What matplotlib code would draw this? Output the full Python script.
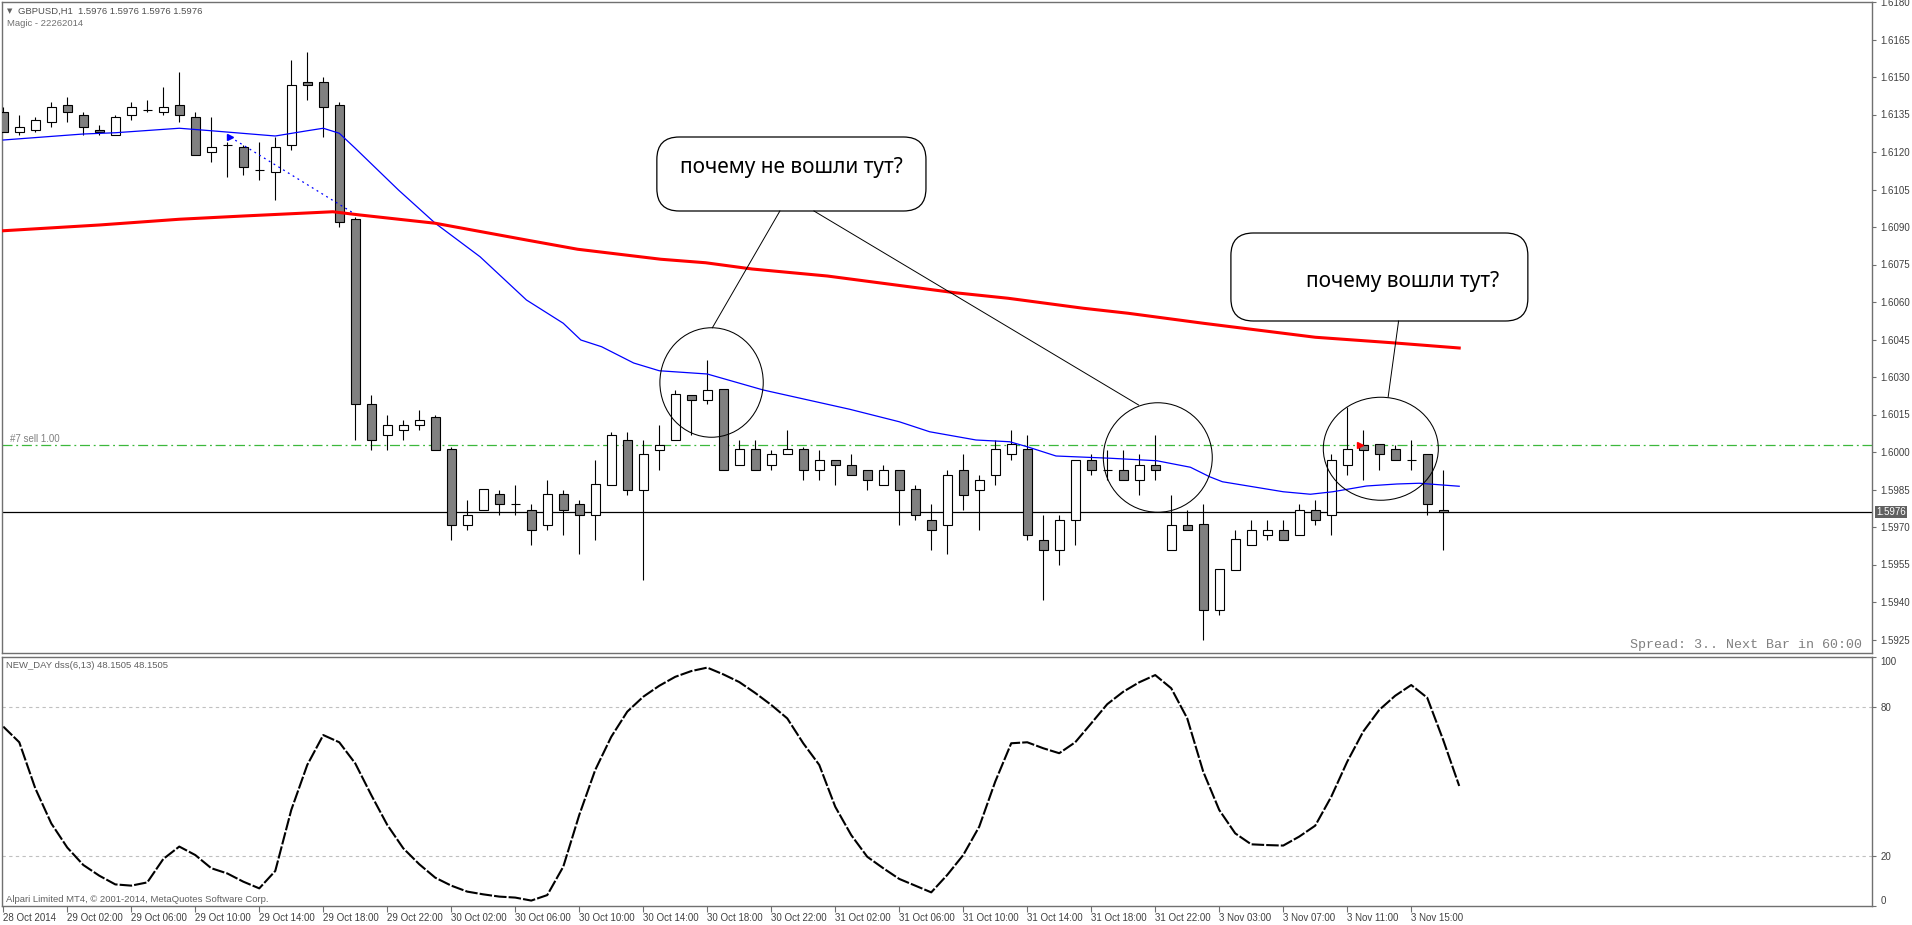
import numpy as np
import matplotlib.pyplot as plt
from matplotlib.patches import Ellipse, FancyBboxPatch

W, H = 1912, 925

# GBPUSD H1 candles, bar 0 = 28 Oct 22:00
opens = [1.6136, 1.6128, 1.6129, 1.6132, 1.6139, 1.6135, 1.6129, 1.6127, 1.6135, 1.6137,
         1.6136, 1.6139, 1.6134, 1.6120, 1.6123, 1.6122, 1.6113, 1.6112, 1.6123, 1.6148,
         1.6148, 1.6139, 1.6093, 1.6019, 1.6007, 1.6009, 1.6011, 1.6014, 1.6001, 1.5971,
         1.5977, 1.5983, 1.5979, 1.5977, 1.5971, 1.5983, 1.5979, 1.5975, 1.5987, 1.6005,
         1.5985, 1.6001, 1.6005, 1.6023, 1.6021, 1.6025, 1.5995, 1.6001, 1.5995, 1.5999,
         1.6001, 1.5993, 1.5997, 1.5995, 1.5993, 1.5987, 1.5993, 1.5985, 1.5973, 1.5971,
         1.5993, 1.5985, 1.5991, 1.5999, 1.6001, 1.5965, 1.5961, 1.5973, 1.5997, 1.5993,
         1.5993, 1.5989, 1.5995, 1.5961, 1.5971, 1.5971, 1.5937, 1.5953, 1.5963, 1.5967,
         1.5969, 1.5967, 1.5977, 1.5975, 1.5995, 1.6003, 1.6003, 1.6001, 1.5997, 1.5999,
         1.5977]
highs = [1.6138, 1.6135, 1.6134, 1.6140, 1.6142, 1.6136, 1.6131, 1.6135, 1.6140, 1.6141,
         1.6146, 1.6152, 1.6136, 1.6134, 1.6124, 1.6123, 1.6124, 1.6126, 1.6157, 1.6160,
         1.6150, 1.6140, 1.6094, 1.6023, 1.6015, 1.6013, 1.6017, 1.6015, 1.6002, 1.5981,
         1.5985, 1.5985, 1.5987, 1.5979, 1.5989, 1.5985, 1.5981, 1.5997, 1.6008, 1.6008,
         1.6005, 1.6011, 1.6025, 1.6023, 1.6037, 1.6025, 1.6005, 1.6005, 1.6001, 1.6009,
         1.6002, 1.6001, 1.5997, 1.5999, 1.5993, 1.5995, 1.5993, 1.5987, 1.5979, 1.5993,
         1.5999, 1.5991, 1.6005, 1.6009, 1.6007, 1.5975, 1.5975, 1.5997, 1.5999, 1.6001,
         1.6001, 1.5999, 1.6007, 1.5983, 1.5977, 1.5979, 1.5953, 1.5969, 1.5973, 1.5973,
         1.5973, 1.5979, 1.5981, 1.5999, 1.6018, 1.6009, 1.6003, 1.6003, 1.6005, 1.5999,
         1.5993]
lows = [1.6128, 1.6127, 1.6128, 1.6130, 1.6132, 1.6127, 1.6127, 1.6127, 1.6133, 1.6136,
        1.6135, 1.6132, 1.6119, 1.6116, 1.6110, 1.6111, 1.6109, 1.6101, 1.6121, 1.6141,
        1.6126, 1.6090, 1.6005, 1.6001, 1.6001, 1.6005, 1.6009, 1.6001, 1.5965, 1.5969,
        1.5977, 1.5975, 1.5975, 1.5963, 1.5969, 1.5967, 1.5959, 1.5965, 1.5987, 1.5983,
        1.5949, 1.5993, 1.6005, 1.6007, 1.6019, 1.5993, 1.5995, 1.5993, 1.5993, 1.5999,
        1.5989, 1.5989, 1.5987, 1.5991, 1.5985, 1.5987, 1.5971, 1.5973, 1.5961, 1.5959,
        1.5977, 1.5969, 1.5987, 1.5997, 1.5965, 1.5941, 1.5955, 1.5963, 1.5991, 1.5989,
        1.5989, 1.5983, 1.5989, 1.5961, 1.5969, 1.5925, 1.5935, 1.5953, 1.5963, 1.5965,
        1.5965, 1.5967, 1.5971, 1.5967, 1.5991, 1.5989, 1.5993, 1.5997, 1.5993, 1.5975,
        1.5961]
closes = [1.6128, 1.6130, 1.6133, 1.6138, 1.6136, 1.6130, 1.6128, 1.6134, 1.6138, 1.6137,
          1.6138, 1.6135, 1.6119, 1.6122, 1.6123, 1.6114, 1.6113, 1.6122, 1.6147, 1.6147,
          1.6138, 1.6092, 1.6019, 1.6005, 1.6011, 1.6011, 1.6013, 1.6001, 1.5971, 1.5975,
          1.5985, 1.5979, 1.5979, 1.5969, 1.5983, 1.5977, 1.5975, 1.5987, 1.6007, 1.5985,
          1.5999, 1.6003, 1.6023, 1.6021, 1.6025, 1.5993, 1.6001, 1.5993, 1.5999, 1.6001,
          1.5993, 1.5997, 1.5995, 1.5991, 1.5989, 1.5993, 1.5985, 1.5975, 1.5969, 1.5991,
          1.5983, 1.5989, 1.6001, 1.6003, 1.5967, 1.5961, 1.5973, 1.5997, 1.5993, 1.5993,
          1.5989, 1.5995, 1.5993, 1.5971, 1.5969, 1.5937, 1.5953, 1.5965, 1.5969, 1.5969,
          1.5965, 1.5977, 1.5973, 1.5997, 1.6001, 1.6001, 1.5999, 1.5997, 1.5997, 1.5979,
          1.5976]

# moving averages (bar position, value)
ma_fast_bars = [0, 5, 7, 11, 13, 17, 19, 20, 21, 22, 24.7, 27, 29.8, 32.7, 35, 36.1, 37.4,
                39.4, 41, 44, 47.5, 52.9, 56, 57.9, 60.8, 62.9, 64, 65.8, 69.2, 72.1,
                74.2, 75.4, 76.2, 80, 81.7, 83.1, 85.2, 87.1, 88.5, 91]
ma_fast = [1.61248, 1.61272, 1.61277, 1.61295, 1.61285, 1.61264, 1.61285, 1.61295,
           1.61275, 1.61215, 1.61048, 1.60915, 1.60781, 1.60608, 1.60515, 1.60448, 1.60421,
           1.60356, 1.60325, 1.60312, 1.60248, 1.60171, 1.60121, 1.60081, 1.60048,
           1.60041, 1.60021, 1.59984, 1.59975, 1.59965, 1.59939, 1.59901, 1.59881,
           1.59841, 1.59831, 1.59841, 1.59864, 1.59872, 1.59875, 1.59863]
ma_slow_bars = [0, 6, 11, 15, 20.6, 22.3, 27, 32.7, 35.9, 41.1, 43.9, 46.8, 51.5, 57.1,
                59.5, 62.8, 67.5, 70.3, 75, 82, 86.8, 91]
ma_slow = [1.60885, 1.60908, 1.60931, 1.60944, 1.60961, 1.60948, 1.60915, 1.60848,
           1.60811, 1.60771, 1.60757, 1.60732, 1.60704, 1.60657, 1.60637, 1.60615,
           1.60575, 1.60555, 1.60515, 1.60459, 1.60437, 1.60416]

# NEW_DAY dss(6,13)
dss = [72.0, 65.7, 47.2, 33.1, 23.4, 16.4, 12.1, 8.6, 8.1, 9.4,
       18.8, 23.8, 20.4, 15.1, 13.0, 9.7, 7.0, 14.0, 38.5, 56.6,
       68.6, 65.7, 57.2, 44.5, 32.5, 23.1, 16.7, 11.3, 8.1, 5.7,
       4.6, 3.7, 3.3, 2.1, 4.3, 15.7, 36.5, 54.6, 67.9, 78.0,
       84.0, 88.4, 92.0, 94.3, 95.7, 93.0, 89.9, 85.5, 80.7, 75.3,
       65.3, 56.6, 39.8, 28.4, 19.7, 15.1, 10.8, 8.1, 5.4, 12.4,
       20.4, 31.8, 49.9, 65.3, 65.7, 63.3, 61.3, 65.7, 73.3, 81.0,
       86.0, 89.8, 92.7, 87.4, 75.3, 53.9, 38.5, 29.1, 24.7, 24.4,
       24.2, 27.8, 32.2, 43.8, 57.9, 70.0, 78.7, 84.4, 88.7, 83.6,
       66.6, 48.15]

time_labels = ['28 Oct 2014', '29 Oct 02:00', '29 Oct 06:00', '29 Oct 10:00', '29 Oct 14:00',
               '29 Oct 18:00', '29 Oct 22:00', '30 Oct 02:00', '30 Oct 06:00', '30 Oct 10:00',
               '30 Oct 14:00', '30 Oct 18:00', '30 Oct 22:00', '31 Oct 02:00', '31 Oct 06:00',
               '31 Oct 10:00', '31 Oct 14:00', '31 Oct 18:00', '31 Oct 22:00', '3 Nov 03:00',
               '3 Nov 07:00', '3 Nov 11:00', '3 Nov 15:00']
price_ticks = [1.5925, 1.5940, 1.5955, 1.5970, 1.5985, 1.6000, 1.6015, 1.6030, 1.6045,
               1.6060, 1.6075, 1.6090, 1.6105, 1.6120, 1.6135, 1.6150, 1.6165, 1.6180]
bid = 1.5976
sell_price = 1.60027
trade_bars = [14.2, 21.9]
trade_prices = [1.61259, 1.60955]
entry_bar, entry_price = 84.8, 1.60028

plt.rcParams['font.family'] = ['Liberation Sans', 'DejaVu Sans']
FRAME = '#707070'
TXT = '#404040'

fig = plt.figure(figsize=(W / 100, H / 100), dpi=100)


def px_axes(left, top, right, bottom):
    return fig.add_axes([left / W, 1 - bottom / H, (right - left) / W, (bottom - top) / H])


ax1 = px_axes(2, 2, 1872, 653)
ax2 = px_axes(2, 656.9, 1872, 905.8)
for ax in (ax1, ax2):
    ax.set_xlim(-0.08, 116.8)
    for s in ax.spines.values():
        s.set_color(FRAME)
        s.set_linewidth(1)

# candles
bars = np.arange(len(opens))
o = np.array(opens)
c = np.array(closes)
ax1.vlines(bars, lows, highs, color='black', lw=0.8, zorder=3)
ax1.bar(bars, np.abs(c - o), bottom=np.minimum(o, c), width=0.58,
        color=np.where(c > o, 'white', '#808080'), edgecolor='black', linewidth=0.8, zorder=4)

ax1.plot(ma_fast_bars, ma_fast, color='#0000ff', lw=0.9, zorder=5)
ax1.plot(ma_slow_bars, ma_slow, color='#ff0000', lw=2.2, zorder=5)

ax1.axhline(bid, color='black', lw=0.9, zorder=2)
ax1.axhline(sell_price, color='#3cb83c', lw=0.9, ls=(0, (8, 3, 1.5, 3)), zorder=2)
ax1.text(0.4, sell_price + 0.00006, '#7 sell 1.00', color='#808080', fontsize=7, va='bottom')

ax1.plot(trade_bars, trade_prices, color='#0000ff', lw=0.9, ls=(0, (1.5, 3)), zorder=5)
ax1.plot(trade_bars[0], trade_prices[0], marker='>', color='#0000ff', ms=4.5, zorder=6)
ax1.plot(entry_bar, entry_price, marker='>', color='#ff0000', ms=4.5, zorder=6)

# circles and callouts
for cx, cy, w, h in [(44.27, 1.60278, 6.46, 0.00438),
                     (72.16, 1.59978, 6.81, 0.00438),
                     (86.1, 1.60013, 7.19, 0.00412)]:
    ax1.add_patch(Ellipse((cx, cy), w, h, fill=False, ec='black', lw=0.75, zorder=7))

for x0, y0, w, h in [(40.85, 1.60964, 16.82, 0.00296), (76.73, 1.60524, 18.56, 0.00352)]:
    ax1.add_patch(FancyBboxPatch((x0, y0), w, h, boxstyle='round,pad=0,rounding_size=1.4',
                                 mutation_aspect=0.00064, fc='white', ec='black', lw=0.9, zorder=7))
ax1.plot([48.54, 44.32], [1.60964, 1.60497], color='black', lw=0.7, zorder=7)
ax1.plot([50.67, 70.96], [1.60964, 1.60188], color='black', lw=0.7, zorder=7)
ax1.plot([87.21, 86.56], [1.60524, 1.60221], color='black', lw=0.7, zorder=7)
ax1.text(49.26, 1.6114, 'почему не вошли тут?', family='Noto Sans', fontsize=15,
         ha='center', va='center', zorder=8)
ax1.text(87.48, 1.6068, 'почему вошли тут?', family='Noto Sans', fontsize=15,
         ha='center', va='center', zorder=8)

ax1.set_ylim(1.59196, 1.6180)
ax1.yaxis.tick_right()
ax1.set_yticks(price_ticks)
ax1.set_yticklabels([f'{p:.4f}' for p in price_ticks])
ax1.tick_params(axis='y', length=3, width=0.8, colors=FRAME, labelcolor=TXT, labelsize=7, pad=3)
ax1.set_xticks([])
ax1.annotate(f'{bid:.4f}', xy=(1, bid), xycoords=('axes fraction', 'data'), xytext=(4, 0),
             textcoords='offset pixels', va='center', ha='left', color='white', fontsize=7,
             bbox=dict(boxstyle='square,pad=0.15', fc='#606060', ec='none'), annotation_clip=False)

# indicator
ax2.set_ylim(0, 100)
ax2.axhline(80, color='#c0c0c0', lw=0.8, ls=(0, (3, 3)))
ax2.axhline(20, color='#c0c0c0', lw=0.8, ls=(0, (3, 3)))
ax2.plot(np.arange(len(dss)), dss, color='black', lw=1.5, ls=(0, (6, 1)))
ax2.yaxis.tick_right()
ax2.set_yticks([0, 20, 80, 100])
ax2.set_yticklabels(['0', '20', '80', '100'])
ax2.tick_params(axis='y', length=3, width=0.8, colors=FRAME, labelcolor=TXT, labelsize=7, pad=3)
lab = ax2.get_yticklabels()
lab[0].set_va('bottom')
lab[-1].set_va('top')
ax2.set_xticks(np.arange(0, 4 * len(time_labels), 4))
ax2.set_xticklabels(time_labels, ha='left')
ax2.tick_params(axis='x', length=4, width=0.8, colors=FRAME, labelcolor=TXT, labelsize=7, pad=1)


def ftext(x, y, s, **kw):
    fig.text(x / W, 1 - y / H, s, va='center', **kw)


ftext(7, 11, '▼', color='#606060', fontsize=5, family='DejaVu Sans')
ftext(18, 11, 'GBPUSD,H1  1.5976 1.5976 1.5976 1.5976', color='#505050', fontsize=6.8)
ftext(7, 24, 'Magic - 22262014', color='#707070', fontsize=6.8)
ftext(6, 665, 'NEW_DAY dss(6,13) 48.1505 48.1505', color='#606060', fontsize=6.8)
ftext(6, 899, 'Alpari Limited MT4, © 2001-2014, MetaQuotes Software Corp.', color='#606060', fontsize=6.8)
ftext(1862, 645, 'Spread: 3.. Next Bar in 60:00', color='#808080', fontsize=9.6,
      family='Liberation Mono', ha='right')

fig.savefig('out.png', dpi=100, facecolor='white')
